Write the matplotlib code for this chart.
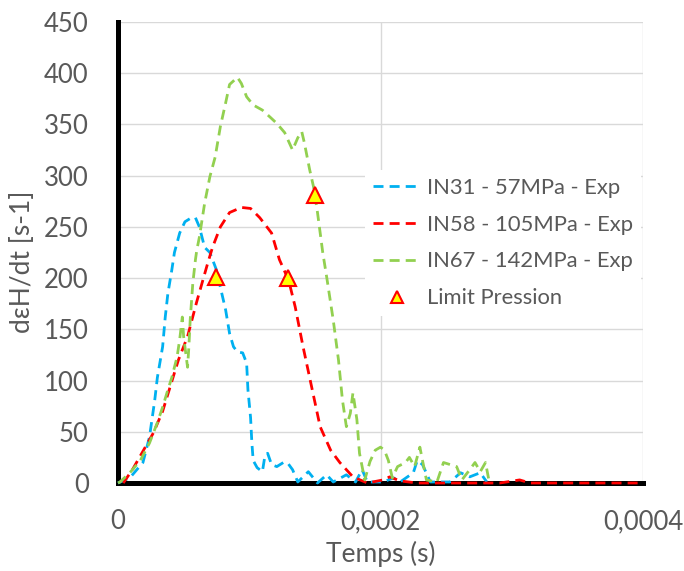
import matplotlib
matplotlib.use("Agg")
import matplotlib.pyplot as plt
import numpy as np

plt.rcParams['font.family'] = ['Lato', 'DejaVu Sans']

# time in microseconds, values in s-1
t_in31 = [0, 9, 19, 24, 28, 30, 34, 36, 38, 41, 43, 47, 51, 56, 59, 62, 66, 70, 75, 78, 82, 85, 88,
          91, 95, 98, 99, 101, 102, 103, 106, 110, 112, 114, 117, 121, 126, 129, 133, 137, 145, 152,
          159, 164, 174, 181, 186, 190, 202, 210, 215, 225, 228, 232, 238, 253, 261, 268, 276, 281]
y_in31 = [0, 5, 20, 45, 81, 103, 133, 162, 185, 208, 225, 244, 255, 259, 259, 250, 230, 225, 208, 191,
          169, 146, 133, 128, 127, 117, 91, 64, 39, 22, 15, 11, 27, 29, 18, 16, 20, 20, 13, 1, 11, 0,
          8, 1, 8, 1, 13, 1, 1, 5, 1, 10, 22, 18, 1, 1, 10, 6, 10, 1]

t_in58 = [4, 11, 19, 27, 34, 40, 46, 53, 60, 68, 72, 78, 85, 94, 101, 108, 117, 123, 130, 135, 141,
          148, 154, 162, 169, 179, 190, 202, 207, 215, 228, 291, 306, 314, 400]
y_in58 = [0, 13, 31, 49, 70, 95, 120, 143, 177, 213, 230, 250, 264, 269, 268, 259, 244, 218, 198,
          172, 133, 91, 55, 32, 20, 6, 0, 3, 6, 2, 0, 0, 3, 0, 0]

t_in67 = [0, 1.5, 9, 17, 24, 30, 34, 38, 41, 45, 47, 49, 50, 53, 54, 55, 57, 59, 60, 62, 66, 70, 74,
          78, 82, 85, 91, 94, 98, 103, 110, 116, 121, 127, 133, 137, 140, 142, 146, 149, 152, 156,
          159, 164, 168, 171, 174, 177, 179, 182, 184, 188, 192, 196, 200, 203, 206, 209, 213, 219,
          222, 226, 230, 232, 235, 243, 248, 253, 258, 262, 268, 272, 276, 280, 283]
y_in67 = [0, 1, 10, 22, 39, 59, 74, 91, 103, 123, 140, 162, 143, 113, 133, 159, 195, 218, 227, 240,
          273, 299, 318, 348, 371, 389, 396, 390, 377, 369, 364, 357, 351, 342, 325, 337, 343, 332,
          306, 289, 264, 225, 201, 159, 120, 81, 55, 68, 88, 62, 29, 3, 21, 32, 35, 32, 22, 5, 16,
          20, 25, 16, 35, 22, 3, 1, 20, 18, 16, 3, 13, 20, 11, 20, 0]

t_limit = [74.7, 129.5, 150.0]
y_limit = [201, 200, 281]

labels = ["IN31 - 57MPa - Exp", "IN58 - 105MPa - Exp", "IN67 - 142MPa - Exp", "Limit Pression"]

fig = plt.figure(figsize=(6.84, 5.71), dpi=100)
ax = fig.add_axes([118/684, 1-483/571, (643-118)/684, (483-22)/571])

lw = 2.0
dash = (0, (3.6, 2.2))
ax.plot(np.array(t_in31)*1e-6, y_in31, color='#00B0F0', lw=lw, ls=dash, label=labels[0], zorder=3, clip_on=False)
ax.plot(np.array(t_in58)*1e-6, y_in58, color='#FF0000', lw=lw, ls=dash, label=labels[1], zorder=3, clip_on=False)
ax.plot(np.array(t_in67)*1e-6, y_in67, color='#92D050', lw=lw, ls=dash, label=labels[2], zorder=3, clip_on=False)
ax.plot(np.array(t_limit)*1e-6, y_limit, ls='none', marker='^', ms=11, mfc='#FFFF00', mec='#FF0000',
        mew=1.5, label=labels[3], zorder=4, clip_on=False)

ax.set_xlim(0, 0.0004)
ax.set_ylim(0, 450)
ax.set_xticks([0, 0.0002, 0.0004])
ax.set_xticklabels(["0", "0,0002", "0,0004"])
ax.set_yticks(np.arange(0, 451, 50))

ax.grid(True, color='#D9D9D9', lw=1.0, zorder=0)
ax.set_axisbelow(True)
for s in ['top', 'right']:
    ax.spines[s].set_visible(False)
for s in ['left', 'bottom']:
    ax.spines[s].set_color('black')
    ax.spines[s].set_linewidth(3.6)
    ax.spines[s].set_zorder(2.5)

ax.tick_params(axis='both', length=0, labelsize=18.5, colors='#595959')
ax.tick_params(axis='y', pad=21)
ax.tick_params(axis='x', pad=19)

ax.set_xlabel("Temps (s)", fontsize=19, color='#595959', labelpad=5)
ax.set_ylabel("dεH/dt [s-1]", fontsize=19, color='#595959')
ax.yaxis.set_label_coords(-0.158, 0.479)

leg = ax.legend(loc='upper left', bbox_to_anchor=(365/684, 1-170/571), bbox_transform=fig.transFigure,
                frameon=True, facecolor='white', edgecolor='none', framealpha=1, fancybox=False,
                fontsize=15.8, handlelength=2.2, handletextpad=0.27, labelspacing=0.77, borderpad=0.35,
                borderaxespad=0, markerscale=0.75)
for txt in leg.get_texts():
    txt.set_color('#595959')

fig.savefig("out.png", dpi=100)
